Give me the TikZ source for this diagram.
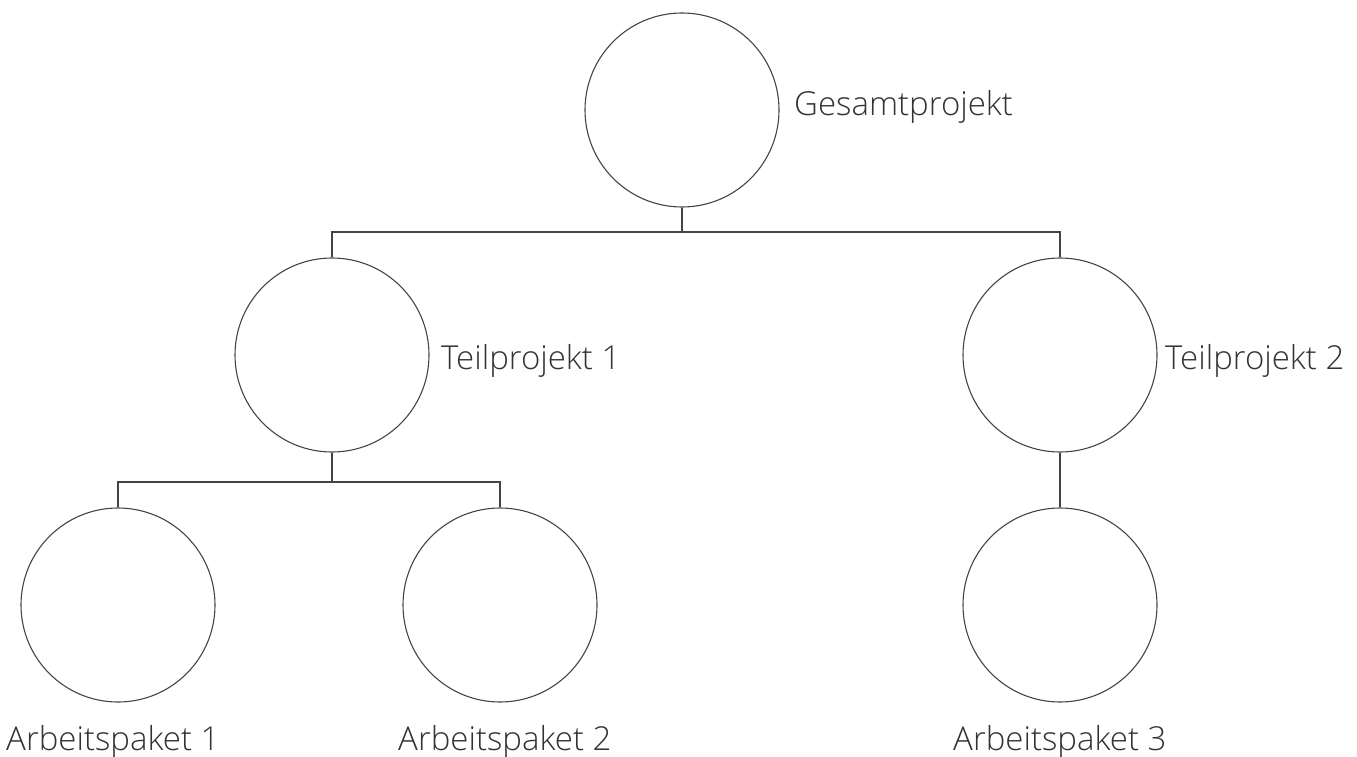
\documentclass[tikz,border=0pt]{standalone}
\usepackage{fontspec}
\setmainfont{Open Sans Light}
\definecolor{txt}{HTML}{333333}
\definecolor{ln}{HTML}{444444}
\begin{document}
\begin{tikzpicture}[x=1pt,y=-1pt,
  circ/.style={circle,draw=ln,line width=1.1pt,minimum size=194pt,inner sep=0pt},
  lbl/.style={anchor=base west,text=txt,font=\fontsize{33}{39}\selectfont,inner sep=0pt},
  conn/.style={draw=ln,line width=1.2pt}]
\useasboundingbox (0,0) rectangle (1357,757);
\node[circ] (g) at (682,110) {};
\node[circ] (t1) at (332,355) {};
\node[circ] (t2) at (1060,355) {};
\node[circ] (a1) at (118,605) {};
\node[circ] (a2) at (500,605) {};
\node[circ] (a3) at (1060,605) {};
\node[lbl] (lg) at (794,116) {Gesamtprojekt};
\node[lbl] (lt1) at (441,369) {Teilprojekt 1};
\node[lbl] (lt2) at (1165,369) {Teilprojekt 2};
\node[lbl] (la1) at (6,750) {Arbeitspaket 1};
\node[lbl] (la2) at (398,750) {Arbeitspaket 2};
\node[lbl] (la3) at (953,750) {Arbeitspaket 3};
\coordinate (j0) at (682,232);
\coordinate (j1) at (332,482);
\draw[conn] (g.south) -- (j0);
\draw[conn] (t1.north) |- (j0) -| (t2.north);
\draw[conn] (t1.south) -- (j1);
\draw[conn] (a1.north) |- (j1) -| (a2.north);
\draw[conn] (t2.south) -- (a3.north);
\end{tikzpicture}
\end{document}
